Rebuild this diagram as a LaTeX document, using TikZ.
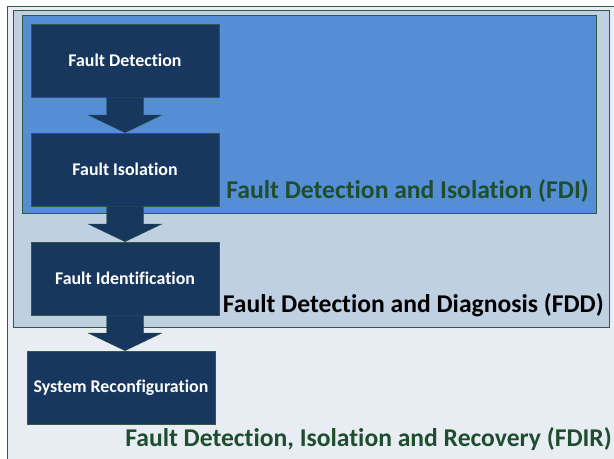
\documentclass[tikz,border=0pt]{standalone}
\usepackage{fontspec}
\setmainfont{Carlito}[Ligatures=NoCommon]
\usetikzlibrary{calc}

\definecolor{navy}{HTML}{17375E}
\definecolor{edgegreen}{HTML}{2F5A45}
\definecolor{textgreen}{HTML}{1F4E2F}
\definecolor{fdirfill}{HTML}{E8EDF4}
\definecolor{fddfill}{HTML}{BFD0E2}
\definecolor{fdifill}{HTML}{558ED5}

\tikzset{
  block/.style={draw=edgegreen, fill=navy, text=white, inner sep=0pt,
    font=\bfseries\fontsize{13.4}{15}\selectfont,
    minimum width=141pt, minimum height=54.75pt},
  zone/.style={draw=edgegreen, anchor=north west, inner sep=0pt},
  zonelabel/.style={anchor=east, inner sep=0pt,
    font=\bfseries\fontsize{19.2}{22}\selectfont},
}

% block arrow from the bottom of #1 down to the top of #2
\newcommand{\flowarrow}[2]{%
  \coordinate (top) at (#1.south);
  \coordinate (tip) at (#1.south |- #2.north);
  \coordinate (mid) at ($(top)!0.5!(tip)$);
  \fill[navy] ($(top)+(-18.5,0)$) -- ($(mid)+(-18.5,0)$) -- ($(mid)+(-37,0)$)
    -- (tip) -- ($(mid)+(37,0)$) -- ($(mid)+(18.5,0)$) -- ($(top)+(18.5,0)$) -- cycle;
  \draw[edgegreen, very thin] ($(top)+(-18.5,0)$) -- ($(mid)+(-18.5,0)$) -- ($(mid)+(-37,0)$)
    -- (tip) -- ($(mid)+(37,0)$) -- ($(mid)+(18.5,0)$) -- ($(top)+(18.5,0)$);
}

\begin{document}
\begin{tikzpicture}[x=0.75pt, y=-0.75pt]
\clip (0,0) rectangle (614,458);
\fill[white] (0,0) rectangle (614,458);

% nested zones
\node (FDIR) [zone, fill=fdirfill, minimum width=462pt, minimum height=345pt] at (7,6) {};
\node (FDD) [zone, fill=fddfill, minimum width=447pt, minimum height=237.75pt] at (13,10) {};
\node (FDI) [zone, fill=fdifill, minimum width=430.5pt, minimum height=148.5pt] at (22,15) {};

\node (FDIlab) [zonelabel, text=textgreen] at (589,191) {Fault Detection and Isolation (FDI)};
\node (FDDlab) [zonelabel, text=black] at (604,305) {Fault Detection and Diagnosis (FDD)};
\node (FDIRlab) [zonelabel, text=textgreen] at (612,439) {Fault Detection, Isolation and Recovery (FDIR)};

% steps
\node (Det) [block] at (125,60.5) {Fault Detection};
\node (Iso) [block] at (125,169.5) {Fault Isolation};
\node (Ident) [block] at (125,278.5) {Fault Identification};
\node (Reconf) [block] at (121,387.5) {System Reconfiguration};

\flowarrow{Det}{Iso}
\flowarrow{Iso}{Ident}
\flowarrow{Ident}{Reconf}
\end{tikzpicture}
\end{document}
